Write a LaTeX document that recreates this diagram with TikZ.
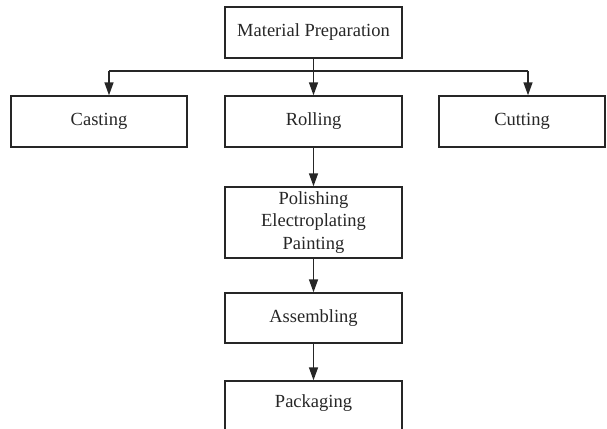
\documentclass[tikz,border=0pt]{standalone}
\usepackage{fontspec}
\setmainfont{Liberation Serif}
\usetikzlibrary{arrows.meta}
\begin{document}
\begin{tikzpicture}[x=1pt,y=-1pt,
  box/.style={draw=black!85, line width=1.4pt, rectangle, inner sep=0pt, minimum height=51pt, font=\fontsize{18.5}{22.5}\selectfont, align=center, text=black!85},
  arr/.style={draw=black!85, line width=1.5pt, -{Triangle[length=13pt,width=9pt]}},
  ln/.style={draw=black!85, line width=1.4pt}]
\clip (0,0) rectangle (607,428);
\path[use as bounding box] (0,0) rectangle (607,428);
\node[box, minimum width=177pt] (mp) at (313.5,32.5) {Material Preparation};
\node[box, minimum width=176pt] (cast) at (99,121.5) {Casting};
\node[box, minimum width=177pt] (roll) at (313.5,121.5) {Rolling};
\node[box, minimum width=166pt] (cut) at (522,121.5) {Cutting};
\node[box, minimum width=177pt, minimum height=71pt] (pol) at (313.5,222.5) {Polishing\\Electroplating\\Painting};
\node[box, minimum width=177pt, minimum height=50pt] (ass) at (313.5,318) {Assembling};
\node[box, minimum width=177pt, minimum height=60pt] (pack) at (313.5,411) {};
\node[font=\fontsize{18.5}{22.5}\selectfont, text=black!85] (packt) at (313.5,403) {Packaging};
\coordinate (hl) at (109,71);
\coordinate (hr) at (528,71);
\draw[ln] (hl) -- (hr);
\draw[arr] (hl) -- (hl |- cast.north);
\draw[arr] (hr) -- (hr |- cut.north);
\draw[arr] (mp.south) -- (roll.north);
\draw[arr] (roll.south) -- (pol.north);
\draw[arr] (pol.south) -- (ass.north);
\draw[arr] (ass.south) -- (pack.north);
\end{tikzpicture}
\end{document}
